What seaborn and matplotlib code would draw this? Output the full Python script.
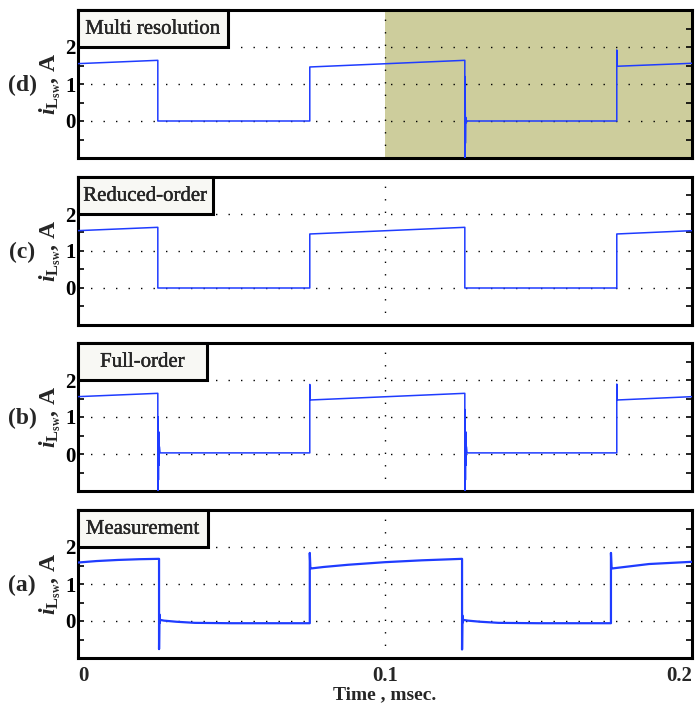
import matplotlib
matplotlib.use("Agg")
import matplotlib.pyplot as plt
import matplotlib.patheffects as pe
import pandas as pd
import seaborn as sns
from matplotlib.patches import Rectangle

# ---- switch-inductor current traces (time in msec, current in A) ----
# (a) measured waveform
t_meas = [0.0, 0.006, 0.013, 0.020, 0.0264, 0.0264, 0.0265, 0.0266, 0.0268,
          0.028, 0.032, 0.038, 0.050, 0.0755, 0.0755, 0.0757, 0.0759,
          0.080, 0.088, 0.100, 0.112, 0.1251, 0.1251, 0.1252, 0.1253, 0.1255,
          0.127, 0.131, 0.137, 0.150, 0.1736, 0.1736, 0.1738, 0.1740,
          0.178, 0.186, 0.200]
i_meas = [1.58, 1.62, 1.65, 1.67, 1.68, -0.76, 0.18, -0.05, 0.03,
          0.01, -0.02, -0.05, -0.06, -0.06, 1.84, 1.42, 1.42,
          1.46, 1.52, 1.59, 1.64, 1.68, -0.77, 0.15, -0.04, 0.03,
          0.01, -0.02, -0.05, -0.06, -0.06, 1.84, 1.42, 1.42,
          1.46, 1.54, 1.60]

# (b) full-order model
t_full = [0.0, 0.026, 0.026, 0.0261, 0.0262, 0.0263, 0.0264, 0.0265, 0.0267,
          0.0755, 0.0755, 0.0756, 0.0757,
          0.126, 0.126, 0.1261, 0.1262, 0.1263, 0.1264, 0.1265, 0.1267,
          0.1755, 0.1755, 0.1756, 0.1757, 0.2]
i_full = [1.55, 1.64, -1.3, 1.0, -0.7, 0.6, -0.3, 0.2, 0.03,
          0.03, 1.88, 1.50, 1.46,
          1.64, -1.3, 1.2, -0.7, 0.6, -0.3, 0.2, 0.03,
          0.03, 1.89, 1.50, 1.46, 1.55]

# (c) reduced-order model
t_reduced = [0.0, 0.026, 0.026, 0.0755, 0.0755, 0.126, 0.126, 0.1755, 0.1755, 0.2]
i_reduced = [1.55, 1.64, 0.0, 0.0, 1.46, 1.64, 0.0, 0.0, 1.46, 1.55]

# (d) multi-resolution model (detailed model active from 0.1 msec)
t_multi = [0.0, 0.026, 0.026, 0.0755, 0.0755,
           0.126, 0.126, 0.1261, 0.1262, 0.1263, 0.1264, 0.1266,
           0.1755, 0.1755, 0.1756, 0.1757, 0.2]
i_multi = [1.55, 1.64, 0.0, 0.0, 1.46,
           1.64, -1.3, 1.2, -0.6, 0.1, -0.05, 0.0,
           0.0, 1.92, 1.52, 1.48, 1.56]

panel_tags = ["(d)", "(c)", "(b)", "(a)"]
panel_titles = ["Multi resolution", "Reduced-order", "Full-order", "Measurement"]
detail_window = (0.1, 0.2)

x_ticks = [0.0, 0.1, 0.2]
x_tick_labels = ["0", "0.1", "0.2"]
y_major = [0, 1, 2]
y_minor = [-0.5, 0.5, 1.5, 2.5]

traces = [(t_multi, i_multi), (t_reduced, i_reduced), (t_full, i_full), (t_meas, i_meas)]

sns.set_theme(style="white")
plt.rcParams["font.family"] = ["Liberation Serif", "DejaVu Serif"]
plt.rcParams["font.weight"] = "bold"
plt.rcParams["mathtext.fontset"] = "custom"
plt.rcParams["mathtext.rm"] = "Liberation Serif:bold"
plt.rcParams["mathtext.it"] = "Liberation Serif:italic:bold"
plt.rcParams["mathtext.bf"] = "Liberation Serif:bold"

fig = plt.figure(figsize=(6.98, 7.09), dpi=100)
W, H = 698.0, 709.0
left, width = 78 / W, 614 / W
tops = [10, 177, 343, 510]
ph = 148

line_color = "#1f3cff"
box_widths = [150, 135, 129, 130]

for k, (tags, title) in enumerate(zip(panel_tags, panel_titles)):
    bottom = 1 - (tops[k] + ph) / H
    ax = fig.add_axes([left, bottom, width, ph / H])
    t, cur = traces[k]
    df = pd.DataFrame({"t": t, "i": cur})

    if k == 0:
        ax.axvspan(*detail_window, color="#cdcd9c", zorder=0.2, lw=0)

    sns.lineplot(data=df, x="t", y="i", ax=ax, sort=False, estimator=None,
                 color=line_color, lw=1.6 if k == 3 else 1.1, zorder=3)

    ax.set_xlim(0, 0.2)
    ax.set_ylim(-1, 3)
    ax.set_yticks(y_major)
    ax.set_yticks(y_minor, minor=True)
    ax.set_xticks(x_ticks)
    ax.grid(True, which="major", axis="both", color="black",
            linestyle=(0, (1, 8)), lw=1.0, zorder=1)
    ax.set_axisbelow(False)
    for line in ax.get_xgridlines() + ax.get_ygridlines():
        line.set_zorder(1)

    ax.tick_params(axis="y", which="both", direction="in", length=4.5, width=1.2,
                   left=True, right=True, labelsize=15, pad=1.5, colors="black")
    ax.tick_params(axis="x", which="both", length=0, labelsize=15, pad=6)
    ax.set_yticklabels([str(v) for v in y_major], fontweight="bold")
    if k == 3:
        xl = ax.set_xticklabels(x_tick_labels, fontweight="bold")
        xl[0].set_ha("left")
        xl[-1].set_ha("right")
        ax.set_xlabel("Time , msec.", fontsize=14, fontweight="bold", labelpad=0)
    else:
        ax.tick_params(axis="x", labelbottom=False)
        ax.set_xlabel("")

    for sp in ax.spines.values():
        sp.set_linewidth(2.2)
        sp.set_color("black")
        sp.set_visible(True)

    ax.set_ylabel(r"$i_{\mathrm{L}_{\mathrm{sw}}}$, A", fontsize=17, fontweight="bold")
    ax.yaxis.set_label_coords(-0.024, 0.5)
    ax.text(-0.091, 0.49, tags, transform=ax.transAxes, ha="center", va="center",
            fontsize=17, fontweight="bold")

    bw = box_widths[k] / 614
    ax.add_patch(Rectangle((0, 0.75), bw, 0.25, transform=ax.transAxes,
                           facecolor="#f8f8f4", edgecolor="black", lw=2.2,
                           zorder=5, clip_on=False))
    ax.text(bw / 2, 0.87, title, transform=ax.transAxes, ha="center", va="center",
            fontsize=15, fontweight="normal", zorder=6,
            path_effects=[pe.withStroke(linewidth=0.25, foreground="black")])

fig.savefig("out.png", dpi=100)
